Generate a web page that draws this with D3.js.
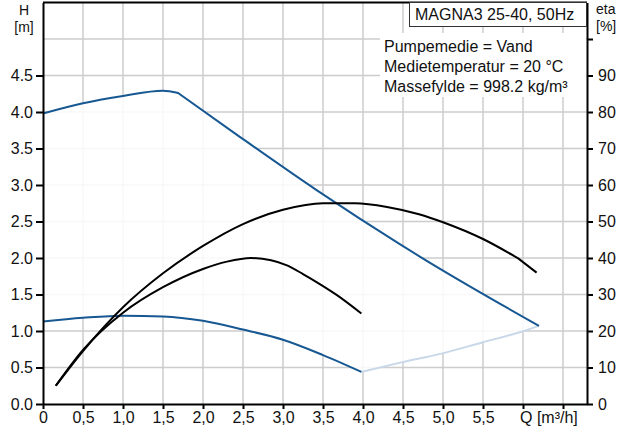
<!DOCTYPE html>
<html>
<head>
<meta charset="utf-8">
<script src="https://cdn.jsdelivr.net/npm/d3@7"></script>
<style>
  body { margin: 0; background: #fff; }
  text { font-family: "Liberation Sans", Arial, sans-serif; font-size: 16px; fill: #111; }
  .unit { font-size: 14px; }
</style>
</head>
<body>
<svg id="chart" width="632" height="427"></svg>
<script>
// max speed QH curve (kink at index 4)
const qMax = [0, 0.5, 1.0, 1.5, 1.69, 2.46, 3.42, 4.46, 4.71, 6.2];
const hMax = [3.98, 4.12, 4.22, 4.29, 4.26, 3.66, 2.93, 2.19, 2.02, 1.07];
// min speed QH curve
const qMin = [0, 0.5, 1.0, 1.5, 2.0, 2.5, 3.0, 3.5, 3.98];
const hMin = [1.13, 1.18, 1.21, 1.20, 1.14, 1.02, 0.88, 0.67, 0.44];
// light boundary joining min and max curve
const qLink = [3.98, 4.48, 4.98, 5.48, 5.98, 6.2];
const hLink = [0.44, 0.57, 0.69, 0.84, 0.99, 1.07];
// efficiency curves [%] (A has a kink at index 13)
const qEtaA = [0.16, 0.5, 1.0, 1.5, 2.0, 2.5, 3.0, 3.5, 3.9, 4.3, 4.7, 5.0, 5.5, 5.94, 6.17];
const etaA = [5, 14.5, 26.5, 35.8, 43.3, 49.3, 53.2, 55, 55, 54, 52, 49.8, 45.2, 39.9, 36];
const qEtaB = [0.16, 0.5, 1.0, 1.5, 2.0, 2.3, 2.6, 2.85, 3.05, 3.25, 3.45, 3.67, 3.98];
const etaB = [5, 14.8, 25.0, 32.0, 37.0, 39.0, 40.0, 39.4, 38.0, 35.6, 33.0, 29.9, 24.8];

const qTicks = [0, 0.5, 1.0, 1.5, 2.0, 2.5, 3.0, 3.5, 4.0, 4.5, 5.0, 5.5, 6.0, 6.5];
const hTicks = [0, 0.5, 1.0, 1.5, 2.0, 2.5, 3.0, 3.5, 4.0, 4.5];
const hGrid = [0.5, 1.0, 1.5, 2.0, 2.5, 3.0, 3.5, 4.0, 4.5, 5.0];
const etaTicks = [0, 10, 20, 30, 40, 50, 60, 70, 80, 90, 100];
const infoLines = ["Pumpemedie = Vand", "Medietemperatur = 20 °C", "Massefylde = 998.2 kg/m³"];
const title = "MAGNA3 25-40, 50Hz";

const svg = d3.select("#chart");
const x = d3.scaleLinear([0, 6.8], [43, 587]);
const yH = d3.scaleLinear([0, 5.5], [404, 2.5]);
const yEta = d3.scaleLinear([0, 110], [404, 2.5]);

const blue = "#175893";
const zip = (a, b) => a.map((d, i) => [d, b[i]]);

// grid
svg.append("g")
  .selectAll("line")
  .data(qTicks.filter((d) => d > 0))
  .join("line")
  .attr("x1", (d) => x(d)).attr("x2", (d) => x(d))
  .attr("y1", yH.range()[1]).attr("y2", yH(0))
  .attr("stroke", "#cccccc").attr("stroke-width", 1.5);
svg.append("g")
  .selectAll("line")
  .data(hGrid)
  .join("line")
  .attr("x1", x(0)).attr("x2", x.range()[1])
  .attr("y1", (d) => yH(d)).attr("y2", (d) => yH(d))
  .attr("stroke", "#cccccc").attr("stroke-width", 1.5);

const lineH = d3.line()
  .x((d) => x(d[0]))
  .y((d) => yH(d[1]))
  .curve(d3.curveMonotoneX);

const lineEta = d3.line()
  .x((d) => x(d[0]))
  .y((d) => yEta(d[1]))
  .curve(d3.curveMonotoneX);

// draw a curve in pieces so a kink stays sharp
const kinked = (gen, pts, k) =>
  gen(pts.slice(0, k + 1)) + gen(pts.slice(k)).replace(/^M/, "L");

const maxPts = zip(qMax, hMax);
const minPts = zip(qMin, hMin);
const linkPts = zip(qLink, hLink);
const maxD = kinked(lineH, maxPts, 4);

// operating range (whitens the grid)
const areaD = maxD
  + lineH(linkPts.slice().reverse()).replace(/^M/, "L")
  + lineH(minPts.slice().reverse()).replace(/^M/, "L") + "Z";
svg.append("path")
  .attr("d", areaD)
  .attr("fill", "#ffffff")
  .attr("fill-opacity", 0.85);

// info box behind text
svg.append("rect")
  .attr("x", 380).attr("y", 33)
  .attr("width", 206).attr("height", 64)
  .attr("fill", "#fff");

svg.append("path")
  .attr("d", lineH(linkPts))
  .attr("fill", "none")
  .attr("stroke", "#c8d8e8")
  .attr("stroke-width", 2);

[maxD, lineH(minPts)].forEach((d) => {
  svg.append("path")
    .attr("d", d)
    .attr("fill", "none")
    .attr("stroke", blue)
    .attr("stroke-width", 2);
});

[kinked(lineEta, zip(qEtaA, etaA), 13), lineEta(zip(qEtaB, etaB))].forEach((d) => {
  svg.append("path")
    .attr("d", d)
    .attr("fill", "none")
    .attr("stroke", "#000")
    .attr("stroke-width", 2);
});

// axes
const styleAxis = (g) => {
  g.select(".domain").attr("stroke", "#000").attr("stroke-width", 2);
  g.selectAll(".tick line").attr("stroke", "#000").attr("stroke-width", 2);
  g.selectAll(".tick text").attr("fill", "#111");
  g.attr("font-size", null).attr("font-family", null);
};

svg.append("g")
  .attr("transform", `translate(${x(0)},0)`)
  .call(d3.axisLeft(yH).tickValues(hTicks).tickFormat(d3.format(".1f"))
    .tickSize(7).tickPadding(3).tickSizeOuter(0))
  .call(styleAxis);

svg.append("g")
  .attr("transform", `translate(${x.range()[1]},0)`)
  .call(d3.axisRight(yEta).tickValues(etaTicks)
    .tickFormat((d) => (d === 100 ? "" : d))
    .tickSize(6).tickPadding(5).tickSizeOuter(0))
  .call(styleAxis);

svg.append("g")
  .attr("transform", `translate(0,${yH(0)})`)
  .call(d3.axisBottom(x).tickValues(qTicks)
    .tickFormat((d) => (d === 0 ? "0" : d >= 6 ? "" : d.toFixed(1).replace(".", ",")))
    .tickSize(5).tickPadding(3).tickSizeOuter(0))
  .call(styleAxis);

// top frame line
svg.append("line")
  .attr("x1", x(0)).attr("x2", x.range()[1])
  .attr("y1", yH.range()[1]).attr("y2", yH.range()[1])
  .attr("stroke", "#000").attr("stroke-width", 2);

svg.append("text")
  .attr("x", x(6) - 3).attr("y", 423)
  .text("Q [m³/h]");

// axis titles
svg.append("text").attr("class", "unit").attr("x", 24).attr("y", 15).attr("text-anchor", "middle").text("H");
svg.append("text").attr("class", "unit").attr("x", 24).attr("y", 32).attr("text-anchor", "middle").text("[m]");
svg.append("text").attr("class", "unit").attr("x", 596).attr("y", 14).text("eta");
svg.append("text").attr("class", "unit").attr("x", 596).attr("y", 31).text("[%]");

// title box
svg.append("rect")
  .attr("x", 409.5).attr("y", 2.5)
  .attr("width", 177).attr("height", 24)
  .attr("fill", "#fff")
  .attr("stroke", "#333")
  .attr("stroke-width", 1);
svg.append("text").attr("x", 415).attr("y", 20).text(title);

svg.append("g")
  .selectAll("text")
  .data(infoLines)
  .join("text")
  .attr("x", 384)
  .attr("y", (d, i) => 52 + i * 20)
  .text((d) => d);
</script>
</body>
</html>
